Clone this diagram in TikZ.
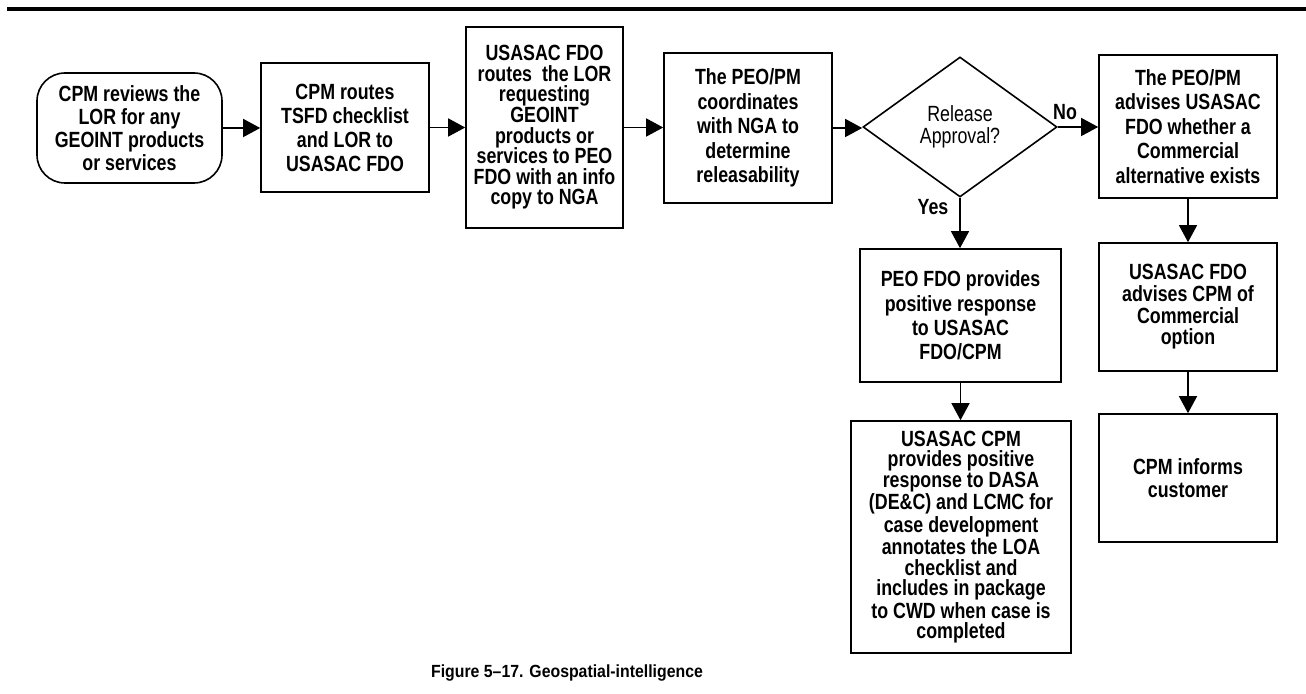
\documentclass[tikz,border=0pt]{standalone}
\usepackage{fontspec}
\setmainfont[FakeStretch=0.81]{Liberation Sans}
\newfontfamily\capfont[FakeStretch=0.9]{Liberation Sans}
\usetikzlibrary{arrows.meta,shapes.geometric}
\begin{document}
\begin{tikzpicture}[x=0.5pt,y=-0.5pt,
  box/.style={draw,line width=0.8pt,align=center,inner sep=0pt,font=\fontsize{11}{#1}\selectfont\bfseries},
  box/.default=12,
  lbl/.style={inner sep=0pt,font=\fontsize{11}{12}\selectfont\bfseries},
  arr/.style={line width=0.7pt,-{Triangle[length=8.5pt,width=9pt]}}]
\useasboundingbox (0,0) rectangle (1306,694);
\fill (7,7) rectangle (1306,11.5);
\node[box=11.5,rounded corners=14pt,minimum width=92.5pt,minimum height=55pt] (n1) at (129.5,128)
  {CPM reviews the\\LOR for any\\GEOINT products\\or services};
\node[box=12,minimum width=84pt,minimum height=64.5pt] (n2) at (345,127.5)
  {CPM routes\\TSFD checklist\\and LOR to\\USASAC FDO};
\node[box=10.3,minimum width=78.5pt,minimum height=100.5pt] (n3) at (544.5,127.5)
  {USASAC FDO\\routes\ \ the LOR\\requesting\\GEOINT\\products or\\services to PEO\\FDO with an info\\copy to NGA};
\node[box=12.3,minimum width=84pt,minimum height=75pt] (n4) at (748,128)
  {The PEO/PM\\coordinates\\with NGA to\\determine\\releasability};
\node[draw,diamond,line width=0.8pt,inner sep=0pt,minimum width=97pt,minimum height=70pt,align=center,
  font=\fontsize{11}{11}\selectfont] (d) at (960,127) {Release\\Approval?};
\node[box=12.3,minimum width=89pt,minimum height=71.5pt] (n5) at (1188,126.5)
  {The PEO/PM\\advises USASAC\\FDO whether a\\Commercial\\alternative exists};
\node[box=10.8,minimum width=89pt,minimum height=64pt] (n6) at (1188,307)
  {USASAC FDO\\advises CPM of\\Commercial\\option};
\node[box=12.2,minimum width=100.5pt,minimum height=66.5pt] (n7) at (960.5,315.5)
  {PEO FDO provides\\positive response\\to USASAC\\FDO/CPM};
\node[box=10.2,minimum width=110pt,minimum height=116pt] (n8) at (961,537)
  {USASAC CPM\\provides positive\\response to DASA\\(DE\&C) and LCMC for\\case development\\annotates the LOA\\checklist and\\includes in package\\to CWD when case is\\completed};
\node[box=11.7,minimum width=89pt,minimum height=64pt] (n9) at (1188,478)
  {CPM informs\\customer};
\node[lbl] (no) at (1065,112) {No};
\node[lbl] (yes) at (933,207) {Yes};
\draw[arr] (n1.east) -- (n1.east -| n2.west);
\draw[arr] (n2.east) -- (n2.east -| n3.west);
\draw[arr] (n3.east) -- (n3.east -| n4.west);
\draw[arr] (n4.east) -- (n4.east -| d.west);
\draw[arr] (d.east) -- (d.east -| n5.west);
\draw[arr] (d.south) -- (d.south |- n7.north);
\draw[arr] (n7.south) -- (n7.south |- n8.north);
\draw[arr] (n5.south) -- (n6.north);
\draw[arr] (n6.south) -- (n9.north);
\node[font=\capfont\bfseries\fontsize{8.8}{10}\selectfont] (cap) at (567,673) {Figure 5–17. Geospatial-intelligence};
\end{tikzpicture}
\end{document}
